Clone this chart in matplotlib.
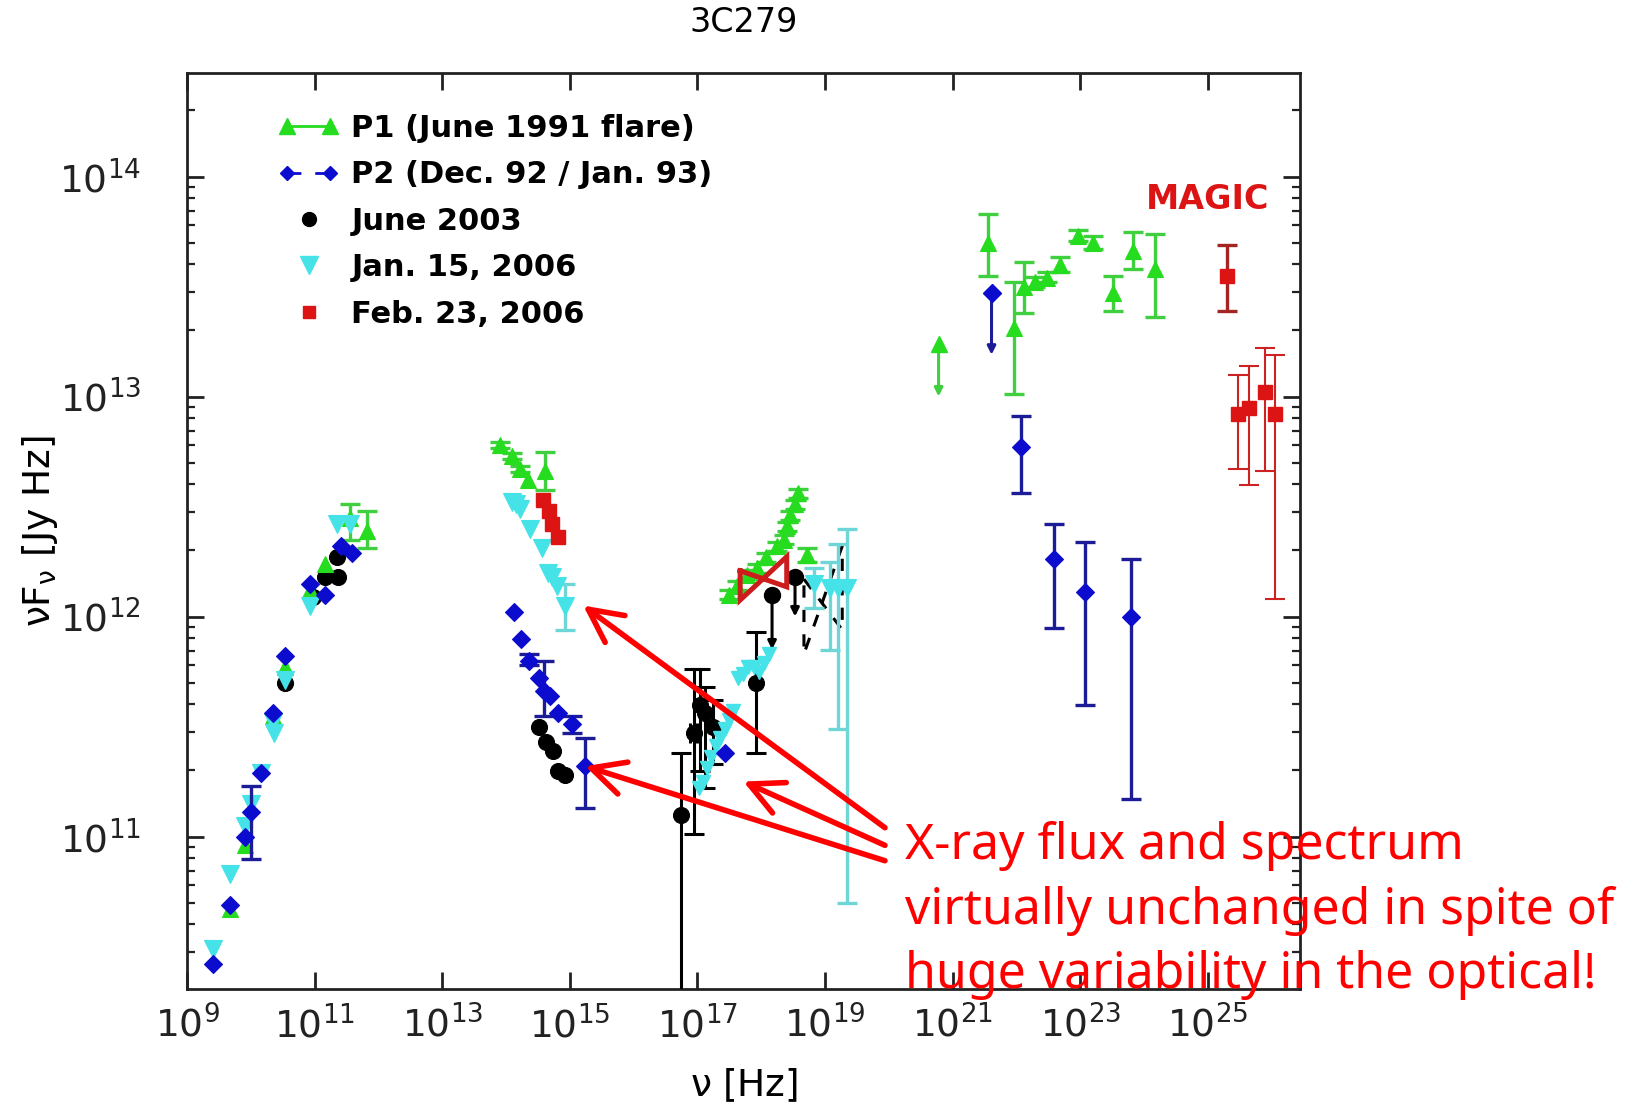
import numpy as np
import matplotlib
matplotlib.use("Agg")
import matplotlib.pyplot as plt
from matplotlib.lines import Line2D
from matplotlib.legend_handler import HandlerLine2D
from matplotlib.ticker import LogLocator, NullLocator, FixedLocator, FixedFormatter

plt.rcParams["font.family"] = ["DejaVu Sans"]
plt.rcParams["mathtext.fontset"] = "dejavusans"

nan = np.nan

# ---------------- data: log10(nu [Hz]) and log10(nuF_nu [Jy Hz]) ----------------
# P1 (June 1991 flare) -- green
p1_lognu = [9.67, 9.91, 10.35, 10.54, 10.93, 11.16, 11.55, 11.82,
            13.91, 14.09, 14.22, 14.35, 14.61,
            17.50, 17.62, 17.78, 17.93, 18.08, 18.24, 18.35, 18.40, 18.45, 18.53, 18.58, 18.71,
            21.56, 21.96, 22.12, 22.29, 22.48, 22.69, 22.97, 23.20, 23.52, 23.82, 24.17]
p1_logf = [10.67, 10.96, 11.55, 11.77, 12.12, 12.24, 12.45, 12.39,
           12.78, 12.73, 12.67, 12.62, 12.66,
           12.10, 12.14, 12.19, 12.22, 12.27, 12.32, 12.35, 12.41, 12.46, 12.51, 12.56, 12.28,
           13.70, 13.31, 13.50, 13.52, 13.54, 13.60, 13.73, 13.70, 13.47, 13.66, 13.58]
p1_lo = [nan, nan, nan, nan, nan, nan, 12.35, 12.31,
         12.765, 12.715, 12.655, nan, 12.575,
         12.08, 12.12, 12.17, 12.20, 12.25, 12.30, 12.33, 12.39, 12.44, 12.49, 12.54, 12.25,
         13.55, 13.01, 13.38, 13.50, 13.52, 13.565, 13.705, 13.67, 13.39, 13.58, 13.36]
p1_hi = [nan, nan, nan, nan, nan, nan, 12.51, 12.48,
         12.795, 12.745, 12.685, nan, 12.75,
         12.12, 12.16, 12.21, 12.24, 12.29, 12.34, 12.37, 12.43, 12.48, 12.53, 12.58, 12.31,
         13.83, 13.52, 13.61, 13.545, 13.565, 13.635, 13.755, 13.73, 13.55, 13.75, 13.74]
p1_ul_lognu = [20.78]
p1_ul_logf = [13.24]
p1_ul_end = [13.00]

# P2 (Dec. 92 / Jan. 93) -- blue
p2_lognu = [9.41, 9.67, 9.91, 10.01, 10.16, 10.35, 10.54, 10.93, 11.16, 11.42, 11.58,
            14.13, 14.24, 14.36, 14.52, 14.60, 14.69, 14.82, 15.03, 15.24,
            17.43,
            22.07, 22.59, 23.07, 23.80]
p2_logf = [10.42, 10.69, 11.00, 11.11, 11.29, 11.56, 11.82, 12.15, 12.10, 12.32, 12.29,
           12.02, 11.90, 11.80, 11.72, 11.66, 11.64, 11.56, 11.51, 11.32,
           11.38,
           12.77, 12.26, 12.11, 12.00]
p2_lo = [nan, nan, nan, 10.90, nan, nan, nan, nan, nan, nan, nan,
         nan, nan, 11.78, nan, 11.55, nan, nan, 11.47, 11.13,
         nan,
         12.56, 11.95, 11.60, 11.17]
p2_hi = [nan, nan, nan, 11.23, nan, nan, nan, nan, nan, nan, nan,
         nan, nan, 11.83, nan, 11.80, nan, nan, 11.55, 11.45,
         nan,
         12.91, 12.42, 12.34, 12.26]
p2_ul_lognu = [21.61]
p2_ul_logf = [13.47]
p2_ul_end = [13.19]

# June 2003 -- black
j03_lognu = [10.54, 10.98, 11.16, 11.35, 11.37,
             14.52, 14.63, 14.74, 14.82, 14.93,
             16.75, 16.94, 17.04, 17.12, 17.25, 17.92]
j03_logf = [11.70, 12.09, 12.18, 12.27, 12.18,
            11.50, 11.43, 11.39, 11.30, 11.28,
            11.10, 11.47, 11.60, 11.56, 11.50, 11.70]
j03_lo = [nan] * 10 + [9.00, 11.01, 11.30, 11.22, 11.33, 11.38]
j03_hi = [nan] * 10 + [11.38, 11.76, 11.76, 11.68, 11.62, 11.93]
j03_xlo = [nan] * 10 + [nan, 16.88, nan, nan, nan, nan]
j03_xhi = [nan] * 10 + [nan, 16.99, nan, nan, nan, nan]
j03_ul_lognu = [18.17, 18.53]
j03_ul_logf = [12.10, 12.18]
j03_ul_end = [11.85, 12.00]
j03_bowtie_lognu = [18.67, 19.27]
j03_bowtie_top = [12.17, 12.32]
j03_bowtie_bot = [11.83, 11.94]

# Jan. 15, 2006 -- cyan
j06_lognu = [9.41, 9.67, 9.91, 10.01, 10.16, 10.35, 10.37, 10.54, 10.93, 11.35, 11.55,
             14.09, 14.15, 14.22, 14.38, 14.56, 14.66, 14.72, 14.80, 14.93]
j06_logf = [10.49, 10.83, 11.05, 11.15, 11.29, 11.52, 11.47, 11.71, 12.05, 12.42, 12.42,
            12.52, 12.51, 12.49, 12.40, 12.31, 12.20, 12.18, 12.14, 12.05]
j06_lo = [nan] * 19 + [11.94]
j06_hi = [nan] * 19 + [12.15]
j06_x_lognu = [17.02, 17.08, 17.15, 17.22, 17.29, 17.36, 17.43, 17.50, 17.56,
               17.64, 17.72, 17.80, 17.88, 17.96, 18.04, 18.12]
j06_x_logf = [11.22, 11.25, 11.31, 11.36, 11.41, 11.45, 11.49, 11.53, 11.57,
              11.72, 11.74, 11.77, 11.77, 11.75, 11.79, 11.83]
j06_hx_lognu = [18.82, 19.08, 19.21, 19.34]
j06_hx_logf = [12.15, 12.13, 12.13, 12.13]
j06_hx_lo = [12.04, 11.85, 11.49, 10.70]
j06_hx_hi = [12.22, 12.25, 12.33, 12.40]

# Feb. 23, 2006 -- red
f06_lognu = [14.58, 14.68, 14.72, 14.82]
f06_logf = [12.53, 12.48, 12.42, 12.36]
f06_bowtie_lognu = [17.67, 18.40]
f06_bowtie_soft = [12.208, 12.135]
f06_bowtie_hard = [12.075, 12.272]
magic_lognu = [25.30, 25.48, 25.65, 25.89, 26.05]
magic_logf = [13.55, 12.92, 12.95, 13.02, 12.92]
magic_lo = [13.39, 12.67, 12.60, 12.66, 12.08]
magic_hi = [13.69, 13.10, 13.14, 13.22, 13.19]

# annotation arrows: tips (log nu, log F) and common tail region
arrow_tip_lognu = [15.21, 15.24, 17.72]
arrow_tip_logf = [12.05, 11.32, 11.25]
arrow_tail_lognu = [19.94, 19.94, 19.94]
arrow_tail_logf = [11.04, 10.89, 10.96]

xtick_exp = [9, 11, 13, 15, 17, 19, 21, 23, 25]
ytick_exp = [11, 12, 13, 14]

legend_labels = ["P1 (June 1991 flare)", "P2 (Dec. 92 / Jan. 93)", "June 2003",
                 "Jan. 15, 2006", "Feb. 23, 2006"]
note_lines = ["X-ray flux and spectrum", "virtually unchanged in spite of",
              "huge variability in the optical!"]

# ---------------- styling ----------------
GREEN = "#26dc1e"
GREEN_E = "#3fcf3f"
BLUE = "#0c0ccf"
BLUE_E = "#1c1c96"
CYAN = "#45e3e8"
CYAN_E = "#6fd6d8"
RED = "#dd1414"

W, H = 1628, 1106
fig = plt.figure(figsize=(W / 100, H / 100), dpi=100)
ax = fig.add_axes([187 / W, 1 - 989 / H, (1300 - 187) / W, (989 - 72.7) / H])
ax.set_xscale("log")
ax.set_yscale("log")
ax.set_xlim(1e9, 10 ** 26.445)
ax.set_ylim(10 ** 10.307, 10 ** 14.472)


def p(a):
    return 10 ** np.asarray(a, dtype=float)


def series(lognu, logf, lo, hi, marker, ms, mc, ec, elw, cap, z, xlo=None, xhi=None):
    x = p(lognu)
    y = p(logf)
    yerr = np.vstack([y - p(lo), p(hi) - y])
    xerr = None
    if xlo is not None:
        xerr = np.vstack([x - p(xlo), p(xhi) - x])
    ax.errorbar(x, y, yerr=yerr, xerr=xerr, fmt="none", ecolor=ec, elinewidth=elw,
                capsize=cap, capthick=elw, zorder=z)
    ax.plot(x, y, linestyle="none", marker=marker, ms=ms, color=mc, mew=0.8, zorder=z + 0.1)


def upper_limits(lognu, logf, end, color, z):
    for xv, yv, ev in zip(p(lognu), p(logf), p(end)):
        ax.annotate("", xy=(xv, ev), xytext=(xv, yv),
                    arrowprops=dict(arrowstyle="-|>", color=color, lw=2.2,
                                    mutation_scale=12, shrinkA=0, shrinkB=0),
                    zorder=z)


# June 2003 (black)
series(j03_lognu, j03_logf, j03_lo, j03_hi, "o", 11.5, "black", "black", 2.2, 7, 3,
       xlo=j03_xlo, xhi=j03_xhi)
upper_limits(j03_ul_lognu, j03_ul_logf, j03_ul_end, "black", 3)
ax.plot(p(j03_ul_lognu), p(j03_ul_logf), "o", color="black", ms=11.5, zorder=3.1)
bx = p(j03_bowtie_lognu)
ax.plot([bx[0], bx[1], bx[1], bx[0], bx[0]],
        p([j03_bowtie_top[0], j03_bowtie_bot[1], j03_bowtie_top[1], j03_bowtie_bot[0], j03_bowtie_top[0]]),
        color="black", lw=2.2, ls=(0, (4, 4)), zorder=3)

# P1 (green)
series(p1_lognu, p1_logf, p1_lo, p1_hi, "^", 11, GREEN, GREEN_E, 2.4, 7, 4)
upper_limits(p1_ul_lognu, p1_ul_logf, p1_ul_end, GREEN_E, 4)
ax.plot(p(p1_ul_lognu), p(p1_ul_logf), "^", color=GREEN, ms=11, zorder=4.1)

# Jan 2006 (cyan)
series(j06_lognu, j06_logf, j06_lo, j06_hi, "v", 13, CYAN, CYAN_E, 2.4, 7, 5)
ax.plot(p(j06_x_lognu), p(j06_x_logf), "v", color=CYAN, ms=10, zorder=5.1)
series(j06_hx_lognu, j06_hx_logf, j06_hx_lo, j06_hx_hi, "v", 13, CYAN, CYAN_E, 2.4, 7, 5)

# P2 (blue)
series(p2_lognu, p2_logf, p2_lo, p2_hi, "D", 9, BLUE, BLUE_E, 2.4, 7, 6)
upper_limits(p2_ul_lognu, p2_ul_logf, p2_ul_end, BLUE_E, 6)
ax.plot(p(p2_ul_lognu), p(p2_ul_logf), "D", color=BLUE, ms=9, zorder=6.1)

# Feb 2006 (red)
ax.plot(p(f06_lognu), p(f06_logf), "s", color=RED, ms=10, zorder=7)
rx = p(f06_bowtie_lognu)
ax.plot([rx[0], rx[1], rx[1], rx[0], rx[0]],
        p([f06_bowtie_soft[0], f06_bowtie_soft[1], f06_bowtie_hard[1], f06_bowtie_hard[0], f06_bowtie_soft[0]]),
        color="#cc1c1c", lw=3.6, zorder=7, solid_joinstyle="miter")
mx = p(magic_lognu)
my = p(magic_logf)
merr = np.vstack([my - p(magic_lo), p(magic_hi) - my])
ax.errorbar(mx[:1], my[:1], yerr=merr[:, :1], fmt="none", ecolor="#a52424", elinewidth=2.4,
            capsize=7, capthick=2.4, zorder=7)
ax.errorbar(mx[1:], my[1:], yerr=merr[:, 1:], fmt="none", ecolor="#cc2222", elinewidth=1.5,
            capsize=7, capthick=1.5, zorder=7)
ax.plot(mx, my, "s", color=RED, ms=10, zorder=7.1)

ax.text(0.917, 0.862, "MAGIC", transform=ax.transAxes, ha="center", va="center",
        color=RED, fontsize=24, fontweight="bold")

# ---------------- axes cosmetics ----------------
for s in ax.spines.values():
    s.set_linewidth(2)
    s.set_color("#222222")
ax.xaxis.set_major_locator(FixedLocator([10.0 ** e for e in xtick_exp]))
ax.xaxis.set_major_formatter(FixedFormatter([r"$10^{%d}$" % e for e in xtick_exp]))
ax.xaxis.set_minor_locator(NullLocator())
ax.yaxis.set_major_locator(FixedLocator([10.0 ** e for e in ytick_exp]))
ax.yaxis.set_major_formatter(FixedFormatter([r"$10^{%d}$" % e for e in ytick_exp]))
ax.yaxis.set_minor_locator(LogLocator(base=10, subs=np.arange(2, 10)))
ax.tick_params(which="both", direction="in", top=True, right=True, colors="#222222")
ax.tick_params(which="major", length=12, width=2, labelsize=27)
ax.tick_params(which="minor", length=6, width=1.6)
ax.tick_params(axis="x", which="major", pad=12)
ax.tick_params(axis="y", which="major", pad=33)

ax.set_xlabel(r"$\mathregular{ν}$ [Hz]", fontsize=27)
ax.set_ylabel(r"$\mathregular{νF_ν}$ [Jy Hz]", fontsize=27)
ax.xaxis.set_label_coords(0.5, -0.085)
ax.yaxis.set_label_coords(-0.114, 0.5)

fig.text(743.5 / W, 1 - 23 / H, "3C279", ha="center", va="center", fontsize=24)

# ---------------- legend ----------------
class EndMarkerHandler(HandlerLine2D):
    def get_xdata(self, legend, xdescent, ydescent, width, height, fontsize):
        xdata, _ = super().get_xdata(legend, xdescent, ydescent, width, height, fontsize)
        pad = self._marker_pad * fontsize
        return xdata, [-xdescent + width - pad]


h1 = Line2D([], [], color=GREEN, lw=2, marker="^", ms=11)
h2 = Line2D([], [], color=BLUE, lw=2, ls=(0, (5, 5)), marker="D", ms=7.5)
h3 = Line2D([], [], color="black", ls="none", marker="o", ms=10)
h4 = Line2D([], [], color=CYAN, ls="none", marker="v", ms=13)
h5 = Line2D([], [], color=RED, ls="none", marker="s", ms=8)
leg = ax.legend([h1, h2, h3, h4, h5], legend_labels, loc="upper left",
                bbox_to_anchor=(0.0818, 0.955), frameon=False, borderpad=0, borderaxespad=0,
                handlelength=2.0, handletextpad=0.4, labelspacing=0.57, numpoints=2,
                prop=dict(family="DejaVu Sans", weight="bold", size=22),
                handler_map={h3: EndMarkerHandler(numpoints=1), h4: EndMarkerHandler(numpoints=1),
                             h5: EndMarkerHandler(numpoints=1)})

# ---------------- annotation ----------------
for tx, ty, sx, sy in zip(arrow_tip_lognu, arrow_tip_logf, arrow_tail_lognu, arrow_tail_logf):
    ax.annotate("", xy=(10 ** tx, 10 ** ty), xytext=(10 ** sx, 10 ** sy),
                arrowprops=dict(arrowstyle="->, head_length=0.6, head_width=0.3", color="#ff0000",
                                lw=4, mutation_scale=40, shrinkA=0, shrinkB=0),
                zorder=10, annotation_clip=False)

for i, line in enumerate(note_lines):
    fig.text(905 / W, 1 - (859 + 64.5 * i) / H, line, ha="left", va="baseline",
             color="#ff0000", fontsize=36, family="Noto Sans")

fig.savefig("out.png", dpi=100)
